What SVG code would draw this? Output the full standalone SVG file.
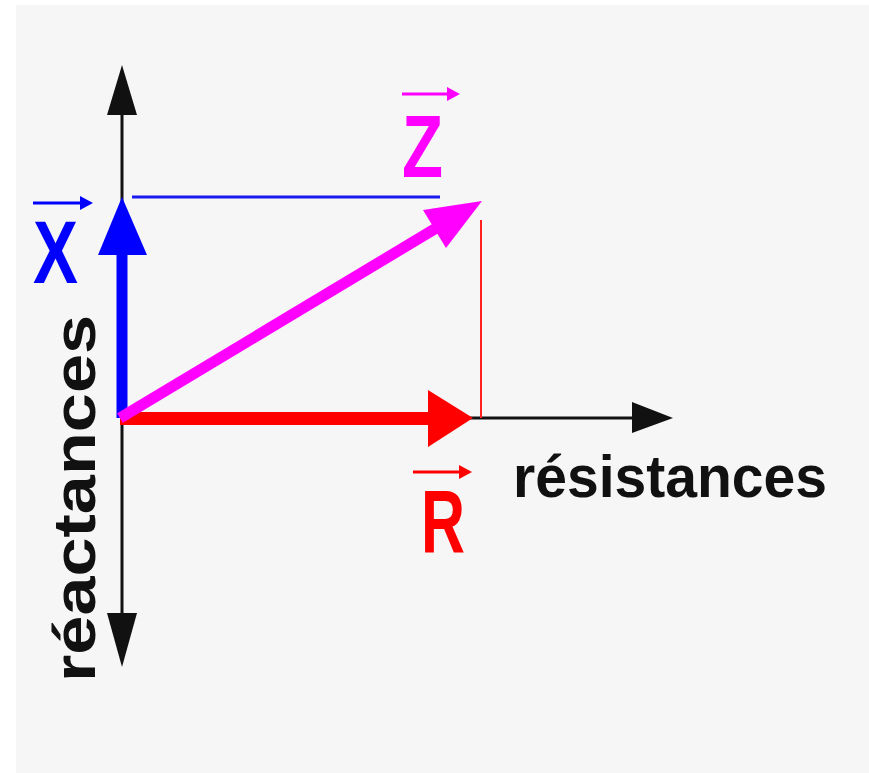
<svg xmlns="http://www.w3.org/2000/svg" width="869" height="773" viewBox="0 0 869 773">
<defs>
<style>
.axis{stroke:#111;stroke-width:3;fill:none}
.lbl{font-family:"Liberation Sans","Arial",sans-serif;font-weight:bold}
</style>
</defs>
<rect x="0" y="0" width="869" height="773" fill="#ffffff"/>
<rect x="16" y="5" width="853" height="768" fill="#f6f6f6"/>
<g id="connectors">
  <!-- axes -->
  <line class="axis" x1="122" y1="110" x2="122" y2="620"/>
  <polygon points="122,65 137,115 107,115" fill="#111"/>
  <polygon points="122,667 137,613 107,613" fill="#111"/>
  <line class="axis" x1="120" y1="418" x2="640" y2="418"/>
  <polygon points="673,418 632,402 632,433" fill="#111"/>
  <!-- projection lines -->
  <line x1="132" y1="197" x2="440" y2="197" stroke="#1a1aee" stroke-width="3"/>
  <line x1="481" y1="220" x2="481" y2="418" stroke="#ff2020" stroke-width="2"/>
</g>
<g id="vector-R">
  <line x1="120" y1="418.5" x2="432" y2="418.5" stroke="#ff0000" stroke-width="13"/>
  <polygon points="473,418 428,390 428,447" fill="#ff0000"/>
</g>
<g id="vector-X">
  <line x1="122" y1="418" x2="122" y2="250" stroke="#0000ff" stroke-width="11"/>
  <polygon points="122,197 147,255 98,255" fill="#0000ff"/>
</g>
<g id="vector-Z">
  <line x1="120" y1="418" x2="438" y2="227" stroke="#ff00ff" stroke-width="11"/>
  <polygon points="482,201 446,248 423,210" fill="#ff00ff"/>
</g>
<g id="label-X">
  <line x1="33" y1="203" x2="84" y2="203" stroke="#0000ff" stroke-width="3"/>
  <polygon points="93,203 80,196 80,210" fill="#0000ff"/>
  <text class="lbl" x="33" y="283" font-size="89" fill="#0000ff" textLength="45" lengthAdjust="spacingAndGlyphs">X</text>
</g>
<g id="label-Z">
  <line x1="402" y1="94" x2="450" y2="94" stroke="#ff00ff" stroke-width="3"/>
  <polygon points="460,94 447,87 447,101" fill="#ff00ff"/>
  <text class="lbl" x="402" y="177" font-size="89" fill="#ff00ff" textLength="41" lengthAdjust="spacingAndGlyphs">Z</text>
</g>
<g id="label-R">
  <line x1="413" y1="472" x2="462" y2="472" stroke="#ff0000" stroke-width="3"/>
  <polygon points="472,472 459,465 459,479" fill="#ff0000"/>
  <text class="lbl" x="421" y="552" font-size="89" fill="#ff0000" textLength="44" lengthAdjust="spacingAndGlyphs">R</text>
</g>
<g id="label-resistances">
  <text class="lbl" x="513" y="497" font-size="60" fill="#111" textLength="314" lengthAdjust="spacingAndGlyphs">résistances</text>
</g>
<g id="label-reactances">
  <text class="lbl" x="95" y="682" font-size="60" fill="#111" textLength="367" lengthAdjust="spacingAndGlyphs" transform="rotate(-90 95 682)">réactances</text>
</g>
</svg>
